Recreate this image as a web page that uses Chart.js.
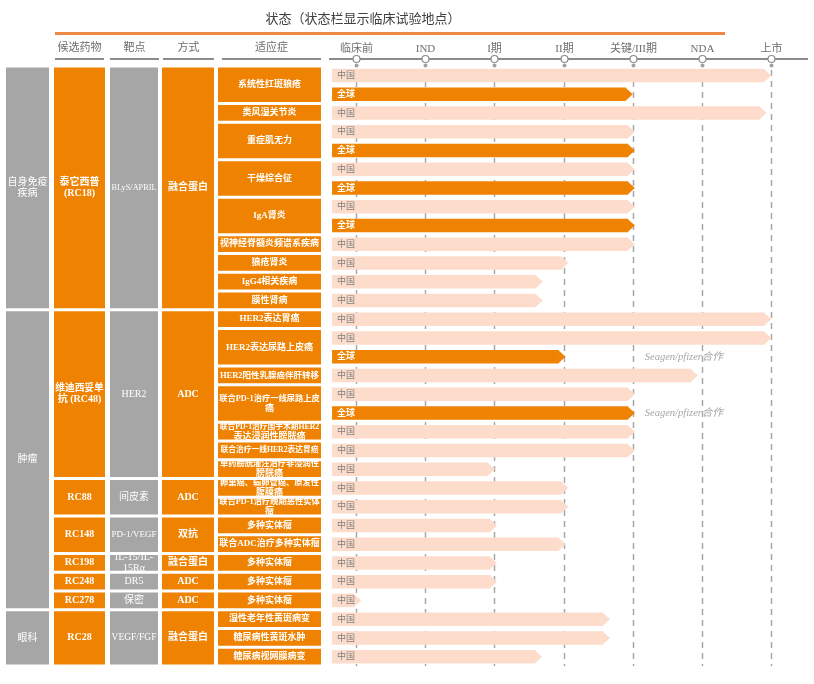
<!DOCTYPE html>
<html><head><meta charset="utf-8">
<script src="https://cdn.jsdelivr.net/npm/chart.js@4.4.1/dist/chart.umd.min.js"></script>
<style>html,body{margin:0;padding:0;background:#fff;}#wrap{width:814px;height:684px;position:relative;}</style>
</head><body><div id="wrap"><canvas id="c" width="814" height="684"></canvas></div>
<script>
// ---------- DATA ----------
const title = '状态（状态栏显示临床试验地点）';
const columnHeaders = ['候选药物', '靶点', '方式', '适应症'];
const stages = ['临床前', 'IND', 'I期', 'II期', '关键/III期', 'NDA', '上市'];

const areas = ['自身免疫\n疾病', '肿瘤', '眼科'];
const areaRows = [13, 16, 3];

const drugs = ['泰它西普\n(RC18)', '维迪西妥单\n抗 (RC48)', 'RC88', 'RC148', 'RC198', 'RC248', 'RC278', 'RC28'];
const targets = ['BLyS/APRIL', 'HER2', '间皮素', 'PD-1/VEGF', 'IL-15/IL-\n15Rα', 'DR5', '保密', 'VEGF/FGF'];
const methods = ['融合蛋白', 'ADC', 'ADC', '双抗', '融合蛋白', 'ADC', 'ADC', '融合蛋白'];
const drugRows = [13, 9, 2, 2, 1, 1, 1, 3];

const indications = ['系统性红斑狼疮', '类风湿关节炎', '重症肌无力', '干燥综合征', 'IgA肾炎',
  '视神经脊髓炎频谱系疾病', '狼疮肾炎', 'IgG4相关疾病', '膜性肾病', 'HER2表达胃癌', 'HER2表达尿路上皮癌',
  'HER2阳性乳腺癌伴肝转移', '联合PD-1治疗一线尿路上皮\n癌', '联合PD-1治疗围手术期HER2\n表达浸润性膀胱癌',
  '联合治疗一线HER2表达胃癌', '单药膀胱灌注治疗非浸润性\n膀胱癌', '卵巢癌、输卵管癌、原发性\n腹膜癌',
  '联合PD-1治疗晚期恶性实体\n瘤', '多种实体瘤', '联合ADC治疗多种实体瘤', '多种实体瘤', '多种实体瘤', '多种实体瘤',
  '湿性老年性黄斑病变', '糖尿病性黄斑水肿', '糖尿病视网膜病变'];
const indicationRows = [2, 1, 2, 2, 2, 1, 1, 1, 1, 1, 2, 1, 2, 1, 1, 1, 1, 1, 1, 1, 1, 1, 1, 1, 1, 1];

// one entry per bar row: trial location and stage reached (0 = 临床前 ... 6 = 上市)
const regions = ['中国', '全球', '中国', '中国', '全球', '中国', '全球', '中国', '全球', '中国', '中国', '中国', '中国',
  '中国', '中国', '全球', '中国', '中国', '全球', '中国', '中国', '中国', '中国', '中国', '中国', '中国', '中国', '中国', '中国',
  '中国', '中国', '中国'];
const progress = [6.0, 4.0, 5.93, 4.03, 4.03, 4.03, 4.03, 4.03, 4.03, 4.03, 3.07, 2.7, 2.7,
  6.0, 6.0, 3.03, 4.94, 4.03, 4.03, 4.03, 4.03, 2.01, 3.07, 3.07, 2.04, 3.03, 2.04, 2.04, 0.08,
  3.67, 3.67, 2.69];
const noteRows = [15, 18];
const noteText = 'Seagen/pfizer合作';

// ---------- STYLE ----------
const C_ORANGE = '#EF8200', C_GRAY = '#A6A6A6', C_PEACH = '#FDDCCB';
const ARROW = 0.1, BAR_START = -0.34;
const FONT = '"Liberation Serif", "Noto Sans CJK SC", serif';
const COLS = [[6, 49], [54, 105], [110, 158], [162, 214], [218, 321]];

const rowLabels = [];
indications.forEach((n, i) => { for (let k = 0; k < indicationRows[i]; k++) rowLabels.push(n.replace('\n', '')); });

function drawCellText(ctx, text, cx, cy, maxW, size, color, weight, minSize) {
  const lines = text.split('\n');
  ctx.fillStyle = color; ctx.textAlign = 'center'; ctx.textBaseline = 'middle';
  const lh = size + 1;
  const y0 = cy - (lines.length - 1) * lh / 2;
  lines.forEach((ln, i) => {
    let s = size;
    ctx.font = `${weight} ${s}px ${FONT}`;
    while (ctx.measureText(ln).width > maxW && s > minSize) { s -= 0.25; ctx.font = `${weight} ${s}px ${FONT}`; }
    ctx.fillText(ln, cx, y0 + i * lh);
  });
}

const tablePlugin = {
  id: 'table',
  beforeDatasetsDraw(chart) {
    const ctx = chart.ctx, xs = chart.scales.x, ca = chart.chartArea;
    ctx.save();
    ctx.strokeStyle = '#A8A8A8'; ctx.lineWidth = 1.5; ctx.setLineDash([6, 5]);
    stages.forEach((s, i) => {
      const x = Math.round(xs.getPixelForValue(i)) + 0.5;
      ctx.beginPath(); ctx.moveTo(x, 70); ctx.lineTo(x, ca.bottom); ctx.stroke();
    });
    ctx.restore();
  },
  afterDatasetsDraw(chart) {
    const ctx = chart.ctx, xs = chart.scales.x, ys = chart.scales.y;
    const step = ys.getPixelForValue(1) - ys.getPixelForValue(0);
    const top = r => ys.getPixelForValue(r) - step / 2;
    ctx.save();
    // arrow heads & location labels
    const meta = chart.getDatasetMeta(0);
    meta.data.forEach((bar, i) => {
      const p = bar.getProps(['x', 'y', 'base', 'height'], true);
      const left = Math.min(p.x, p.base), right = Math.max(p.x, p.base);
      const tip = xs.getPixelForValue(progress[i]);
      const glob = regions[i] === '全球';
      ctx.fillStyle = glob ? C_ORANGE : C_PEACH;
      ctx.beginPath();
      ctx.moveTo(right - 0.5, p.y - p.height / 2);
      ctx.lineTo(tip, p.y);
      ctx.lineTo(right - 0.5, p.y + p.height / 2);
      ctx.closePath(); ctx.fill();
      ctx.font = `${glob ? 'bold ' : ''}9px ${FONT}`;
      ctx.fillStyle = glob ? '#FFFFFF' : '#808080';
      ctx.textAlign = 'left'; ctx.textBaseline = 'middle';
      ctx.fillText(regions[i], left + 5, p.y + 0.5);
    });
    // notes
    ctx.font = `italic 10.5px ${FONT}`; ctx.fillStyle = '#A6A6A6'; ctx.textAlign = 'left';
    noteRows.forEach(r => ctx.fillText(noteText, xs.getPixelForValue(4) + 12, ys.getPixelForValue(r) + 0.5));

    // table cells
    const drawGroup = (labels, counts, col, color, size, weight, minSize) => {
      let r = 0;
      labels.forEach((lab, i) => {
        const y1 = top(r) + 1.5, y2 = top(r + counts[i]) - 1.5;
        const [x1, x2] = COLS[col];
        ctx.fillStyle = color; ctx.fillRect(x1, y1, x2 - x1, y2 - y1);
        drawCellText(ctx, lab, (x1 + x2) / 2, (y1 + y2) / 2, x2 - x1 - 2, size, '#FFFFFF', weight, minSize);
        r += counts[i];
      });
    };
    drawGroup(areas, areaRows, 0, C_GRAY, 10, 'normal', 8);
    drawGroup(drugs, drugRows, 1, C_ORANGE, 10, 'bold', 8);
    drawGroup(targets, drugRows, 2, C_GRAY, 10, 'normal', 8);
    drawGroup(methods, drugRows, 3, C_ORANGE, 10, 'bold', 8);
    drawGroup(indications, indicationRows, 4, C_ORANGE, 9, 'bold', 7.5);

    // header
    ctx.textAlign = 'center'; ctx.textBaseline = 'middle';
    ctx.font = `13px ${FONT}`; ctx.fillStyle = '#404040';
    ctx.fillText(title, 363, 20);
    ctx.strokeStyle = '#EE8A45'; ctx.lineWidth = 3;
    ctx.beginPath(); ctx.moveTo(55, 33.5); ctx.lineTo(725, 33.5); ctx.stroke();
    const hdrCols = [[55, 104], [110, 159], [163, 214], [222, 321]];
    ctx.font = `11px ${FONT}`;
    columnHeaders.forEach((h, i) => {
      const [a, b] = hdrCols[i];
      ctx.fillStyle = '#6E6E6E'; ctx.fillText(h, (a + b) / 2, 48);
      ctx.strokeStyle = '#8C8C8C'; ctx.lineWidth = 2;
      ctx.beginPath(); ctx.moveTo(a, 59); ctx.lineTo(b, 59); ctx.stroke();
    });
    ctx.strokeStyle = '#8C8C8C'; ctx.lineWidth = 2;
    ctx.beginPath(); ctx.moveTo(329, 59); ctx.lineTo(808, 59); ctx.stroke();
    stages.forEach((s, i) => {
      const x = Math.round(xs.getPixelForValue(i)) + 0.5;
      ctx.fillStyle = '#6E6E6E'; ctx.font = `11px ${FONT}`;
      ctx.fillText(s, x, 49);
      ctx.beginPath(); ctx.arc(x, 59, 3.5, 0, Math.PI * 2);
      ctx.fillStyle = '#FFFFFF'; ctx.fill();
      ctx.strokeStyle = '#8C8C8C'; ctx.lineWidth = 1.2; ctx.stroke();
      ctx.beginPath(); ctx.arc(x, 65.5, 2, 0, Math.PI * 2);
      ctx.fillStyle = '#A0A0A0'; ctx.fill();
    });
    ctx.restore();
  }
};

new Chart(document.getElementById('c'), {
  type: 'bar',
  data: {
    labels: rowLabels,
    datasets: [{
      data: progress.map(p => [BAR_START, p - ARROW]),
      backgroundColor: regions.map(r => r === '全球' ? C_ORANGE : C_PEACH),
      borderWidth: 0,
      categoryPercentage: 1,
      barPercentage: 0.72
    }]
  },
  options: {
    indexAxis: 'y',
    responsive: false,
    animation: false,
    layout: { padding: { left: 321, right: 8, top: 66, bottom: 18 } },
    plugins: { legend: { display: false }, tooltip: { enabled: false } },
    scales: {
      x: { type: 'linear', min: -0.5, max: 6.5, display: false },
      y: { type: 'category', display: false, offset: true }
    }
  },
  plugins: [tablePlugin]
});
</script></body></html>
